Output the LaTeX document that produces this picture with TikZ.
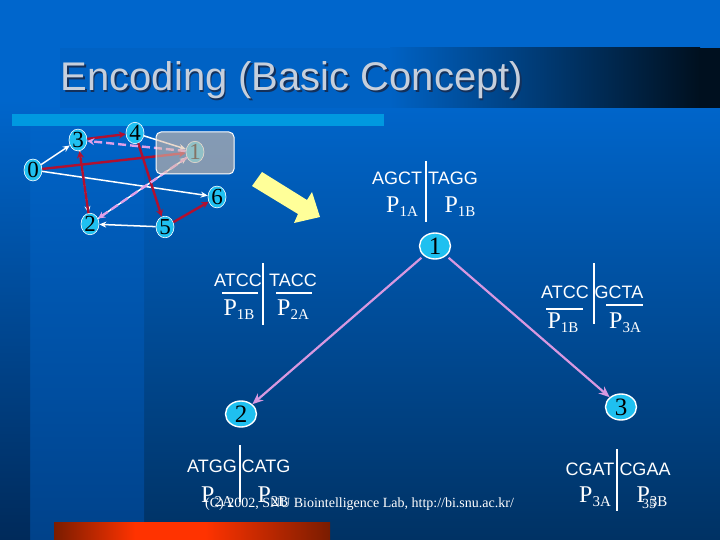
\documentclass[tikz,border=0pt]{standalone}
\usepackage{fontspec}
\setmainfont{Liberation Serif}
\newfontfamily\seqfont{Liberation Sans}
\usetikzlibrary{shapes.geometric}
\definecolor{basetop}{HTML}{0066CC}
\definecolor{basebot}{HTML}{003264}
\definecolor{stripbot}{HTML}{00428A}
\definecolor{edgebot}{HTML}{002A5A}
\definecolor{barblue}{HTML}{0099E0}
\definecolor{bandleft}{HTML}{0062C4}
\definecolor{bandright}{HTML}{00101F}
\definecolor{titlegray}{HTML}{C6CFDC}
\definecolor{titleshade}{HTML}{14305A}
\definecolor{nodecyan}{HTML}{1FC0F0}
\definecolor{edgered}{HTML}{B01030}
\definecolor{edgepink}{HTML}{E0A0E8}
\definecolor{treepink}{HTML}{D898E0}
\definecolor{boxgray}{RGB}{220,193,171}
\definecolor{arrowyellow}{HTML}{FFFF99}
\definecolor{reddark}{HTML}{7A1C00}
\definecolor{redbright}{HTML}{FF3300}
\def\plabel#1{{\fontsize{24}{24}\selectfont P}{\fontsize{15}{15}\selectfont\raisebox{-4pt}{#1}}}
\tikzset{
	gnode/.style={ellipse,draw=white,line width=0.6pt,fill=nodecyan,inner sep=0pt,minimum width=18pt,minimum height=17pt,text=black,font=\fontsize{23}{23}\selectfont},
	tnode/.style={ellipse,draw=white,line width=1.4pt,fill=nodecyan,inner sep=0pt,minimum width=31pt,minimum height=26pt,text=black,font=\fontsize{25}{25}\selectfont},
	whiteedge/.style={-{Stealth[length=7pt,width=6pt]},draw=white,line width=1.5pt},
	rededge/.style={-{Stealth[length=7pt,width=7pt]},draw=edgered,line width=2.4pt},
	pinkedge/.style={-{Stealth[length=7pt,width=7pt]},draw=edgepink,line width=2.4pt,dash pattern=on 8pt off 4pt},
	treeedge/.style={-{Stealth[length=11pt,width=9pt]},draw=treepink,line width=2.2pt,shorten <=3pt},
	seqtext/.style={text=white,draw=none,inner sep=0pt,font=\seqfont\fontsize{18}{18}\selectfont},
	ptext/.style={text=white,inner sep=0pt},
	splitbar/.style={draw=white,line width=1.4pt},
}
\usetikzlibrary{arrows.meta}
\begin{document}
\begin{tikzpicture}[x=1pt,y=-1pt]
		%%%%% START %%%%%
		\useasboundingbox (0, 0) rectangle (720, 540);

		% background
		\fill[basetop] (0, 0) rectangle (720, 100);
		\shade[top color=basetop, bottom color=basebot] (0, 100) rectangle (720, 540);
		\shade[top color=basetop, bottom color=stripbot] (30, 100) rectangle (144, 540);
		\shade[top color=basetop, bottom color=edgebot] (0, 100) rectangle (30, 540);

		% title band
		\fill[bandleft] (60, 48) rectangle (390, 108);
		\shade[left color=bandleft, right color=bandright] (390, 48) rectangle (700, 108);
		\fill[bandright] (699, 48) rectangle (720, 108);
		\fill[barblue] (12, 114) rectangle (384, 126);
		\shade[left color=reddark, right color=redbright] (54, 522) rectangle (135, 540);
		\fill[redbright] (135, 522) rectangle (205, 540);
		\shade[left color=redbright, right color=reddark] (205, 522) rectangle (330, 540);

		\node[text=titleshade, inner sep=0pt, font=\fontsize{40}{40}\selectfont\seqfont] (titleback) at (293.5, 82) {Encoding (Basic Concept)};
		\node[text=titlegray, inner sep=0pt, font=\fontsize{40}{40}\selectfont\seqfont] (title) at (292, 80) {Encoding (Basic Concept)};

		% small graph
		\node[gnode] (n0) at (33, 170) {0};
		\node[gnode] (n1) at (195, 152) {1};
		\node[gnode] (n2) at (90, 224) {2};
		\node[gnode] (n3) at (78, 140) {3};
		\node[gnode] (n4) at (135, 133) {4};
		\node[gnode] (n5) at (165, 227) {5};
		\node[gnode] (n6) at (217, 197) {6};

		\draw[whiteedge] (n0) -- (n3);
		\draw[whiteedge] (n0) -- (n6);
		\draw[whiteedge] (n3) -- (n2);
		\draw[whiteedge] (n4) -- (n1);
		\draw[whiteedge] (n5) -- (n2);
		\draw[whiteedge] (n2) -- (n1);

		\draw[rededge] (n3) -- (n4);
		\draw[rededge] (n4) -- (n5);
		\draw[rededge] (n0) -- (n1);
		\draw[rededge] (n5) -- (n6);
		\draw[rededge] (n2) -- (n3);

		\draw[pinkedge] (n1) -- (n3);
		\draw[pinkedge] (n1) -- (n2);

		\fill[boxgray, opacity=0.6, rounded corners=5pt] (156, 132) rectangle (234, 174);
		\draw[white, line width=1pt, rounded corners=5pt] (156, 132) rectangle (234, 174);

		% big arrow
		\fill[arrowyellow] (262, 172) -- (307, 200) -- (312, 192) -- (320, 217) -- (294, 223) -- (298, 214) -- (252, 186) -- cycle;

		% tree
		\node[tnode] (t1) at (435, 246) {1};
		\node[tnode] (t2) at (241, 414) {2};
		\node[tnode] (t3) at (621, 407) {3};
		\draw[treeedge] (t1) -- (t2);
		\draw[treeedge] (t1) -- (t3);

		% node 1 sequences
		\node[seqtext] (s1a) at (397, 178) {AGCT};
		\node[seqtext] (s1b) at (453, 178) {TAGG};
		\node[ptext] (p1a) at (402, 207) {\plabel{1A}};
		\node[ptext] (p1b) at (460, 207) {\plabel{1B}};
		\draw[splitbar] (426, 161) -- (426, 222);

		% node 2 parents
		\node[seqtext] (s2a) at (238, 280) {ATCC};
		\node[seqtext] (s2b) at (293, 280) {TACC};
		\node[ptext] (p2a) at (239, 310) {\plabel{1B}};
		\node[ptext] (p2b) at (293, 310) {\plabel{2A}};
		\draw[splitbar] (263, 263) -- (263, 325);
		\draw[splitbar] (222, 293) -- (258, 293);
		\draw[splitbar] (276, 293) -- (312, 293);

		% node 3 parents
		\node[seqtext] (s3a) at (565, 292) {ATCC};
		\node[seqtext] (s3b) at (619, 292) {GCTA};
		\node[ptext] (p3a) at (563, 323) {\plabel{1B}};
		\node[ptext] (p3b) at (625, 323) {\plabel{3A}};
		\draw[splitbar] (594, 263) -- (594, 324);
		\draw[splitbar] (546, 309) -- (583, 309);
		\draw[splitbar] (606, 305) -- (643, 305);

		% node 2 result
		\node[seqtext] (s4a) at (212, 466) {ATGG};
		\node[seqtext] (s4b) at (266, 466) {CATG};
		\node[ptext] (p4a) at (217, 497) {\plabel{2A}};
		\node[ptext] (p4b) at (273, 497) {\plabel{2B}};
		\draw[splitbar] (240, 445) -- (240, 502);

		% node 3 result
		\node[seqtext] (s5a) at (590, 469) {CGAT};
		\node[seqtext] (s5b) at (645, 469) {CGAA};
		\node[ptext] (p5a) at (595, 497) {\plabel{3A}};
		\node[ptext] (p5b) at (652, 497) {\plabel{3B}};
		\draw[splitbar] (617, 449) -- (617, 511);

		% footer
		\node[text=white, inner sep=0pt, font=\fontsize{14}{14}\selectfont] (footer) at (359.5, 504) {(C) 2002, SNU Biointelligence Lab, http://bi.snu.ac.kr/};
		\node[text=white, inner sep=0pt, font=\fontsize{14}{14}\selectfont] (pagenum) at (649, 504) {35};
		%%%%% END %%%%%
	\end{tikzpicture}
\end{document}
